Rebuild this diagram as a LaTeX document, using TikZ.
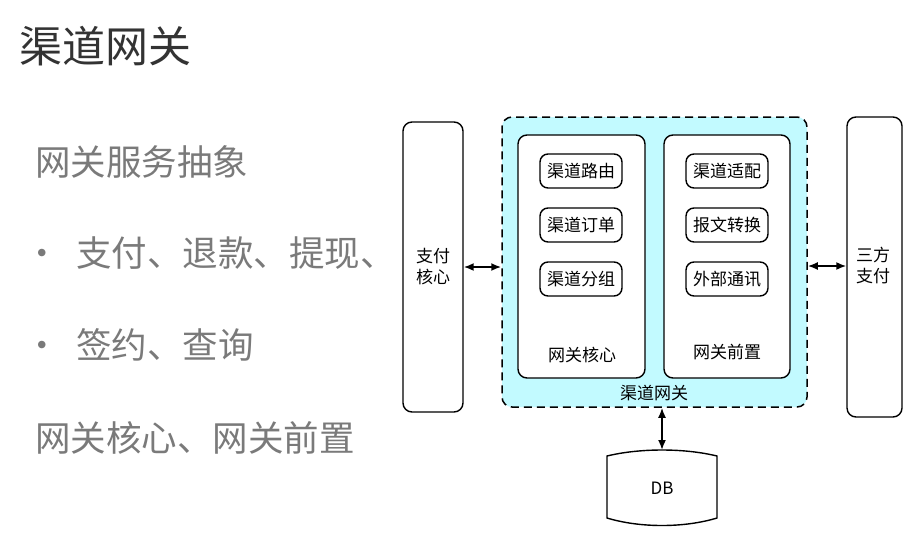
\documentclass[tikz,border=0pt]{standalone}
\usepackage{fontspec}
\setmainfont{Noto Sans CJK SC}
\usetikzlibrary{arrows.meta}
\definecolor{titlec}{HTML}{333333}
\definecolor{bodyc}{HTML}{7A7A7A}
\definecolor{cyanfill}{HTML}{C2FAFF}
\tikzset{
  rbox/.style={draw=black, line width=1.4pt, rounded corners=9pt, fill=white},
  pill/.style={draw=black, line width=1.4pt, rounded corners=8pt, fill=white, minimum width=82pt, minimum height=34pt, inner sep=0pt, font=\fontsize{17}{20}\selectfont},
  lbl/.style={font=\fontsize{17}{21}\selectfont, inner sep=0pt, align=center},
  body/.style={anchor=west, inner sep=0pt, text=bodyc, font=\fontsize{35.5}{40}\selectfont},
  bullet/.style={anchor=base west, inner sep=0pt, text=bodyc, font=\fontsize{35.5}{40}\selectfont},
  dbl/.style={{Latex[length=10pt,width=8pt]}-{Latex[length=10pt,width=8pt]}, line width=1.8pt},
}
\begin{document}
\begin{tikzpicture}[x=1pt,y=-1pt]
\useasboundingbox (0,0) rectangle (917,552);
\fill[white] (0,0) rectangle (917,552);
% left text
\node[anchor=west, inner sep=0pt, text=titlec, font=\fontsize{43}{48}\selectfont] (title) at (19,46) {渠道网关};
\node[body] (t1) at (35,162) {网关服务抽象};
\node[body] (t2) at (76,253) {支付、退款、提现、};
\node[bullet] (b1) at (t2.base -| 24,0) {・};
\node[body] (t3) at (76,345) {签约、查询};
\node[bullet] (b2) at (t3.base -| 24,0) {・};
\node[body] (t4) at (35,438) {网关核心、网关前置};
% gateway container
\node[draw=black, line width=1.5pt, dash pattern=on 8pt off 5pt, rounded corners=10pt, fill=cyanfill, minimum width=305pt, minimum height=290pt, inner sep=0pt] (gw) at (654.5,262) {};
\node[lbl] (gwl) at (654,393) {渠道网关};
% core and front
\node[rbox, minimum width=127pt, minimum height=243pt, inner sep=0pt] (core) at (581.5,256.5) {};
\node[lbl] (corel) at (582,355) {网关核心};
\node[rbox, minimum width=126pt, minimum height=243pt, inner sep=0pt] (front) at (727,256.5) {};
\node[lbl] (frontl) at (727,352) {网关前置};
% pills
\node[pill] (p1) at (581,171) {渠道路由};
\node[pill] (p2) at (581,225) {渠道订单};
\node[pill] (p3) at (581,279) {渠道分组};
\node[pill] (q1) at (727,171) {渠道适配};
\node[pill] (q2) at (727,225) {报文转换};
\node[pill] (q3) at (727,279) {外部通讯};
% side boxes
\node[rbox, minimum width=60pt, minimum height=290pt, inner sep=0pt] (pay) at (433,267) {};
\node[lbl] (payl) at (433,267) {支付\\核心};
\node[rbox, minimum width=55pt, minimum height=300pt, inner sep=0pt] (tp) at (874.5,267) {};
\node[lbl] (tpl) at (873,265) {三方\\支付};
% DB
\draw[line width=1.4pt, fill=white] (607,456) .. controls (640,448) and (684,448) .. (717,456) -- (717,518) .. controls (684,528) and (640,528) .. (607,518) -- cycle;
\coordinate (dbtop) at (662,450);
\node[inner sep=0pt, font=\fontsize{17}{20}\selectfont] (db) at (662,488) {DB};
% arrows
\draw[dbl] (pay.east |- 0,267) -- (gw.west |- 0,267);
\draw[dbl] (gw.east |- 0,266) -- (tp.west |- 0,266);
\draw[dbl] (gw.south -| dbtop) -- (dbtop);
\end{tikzpicture}
\end{document}
